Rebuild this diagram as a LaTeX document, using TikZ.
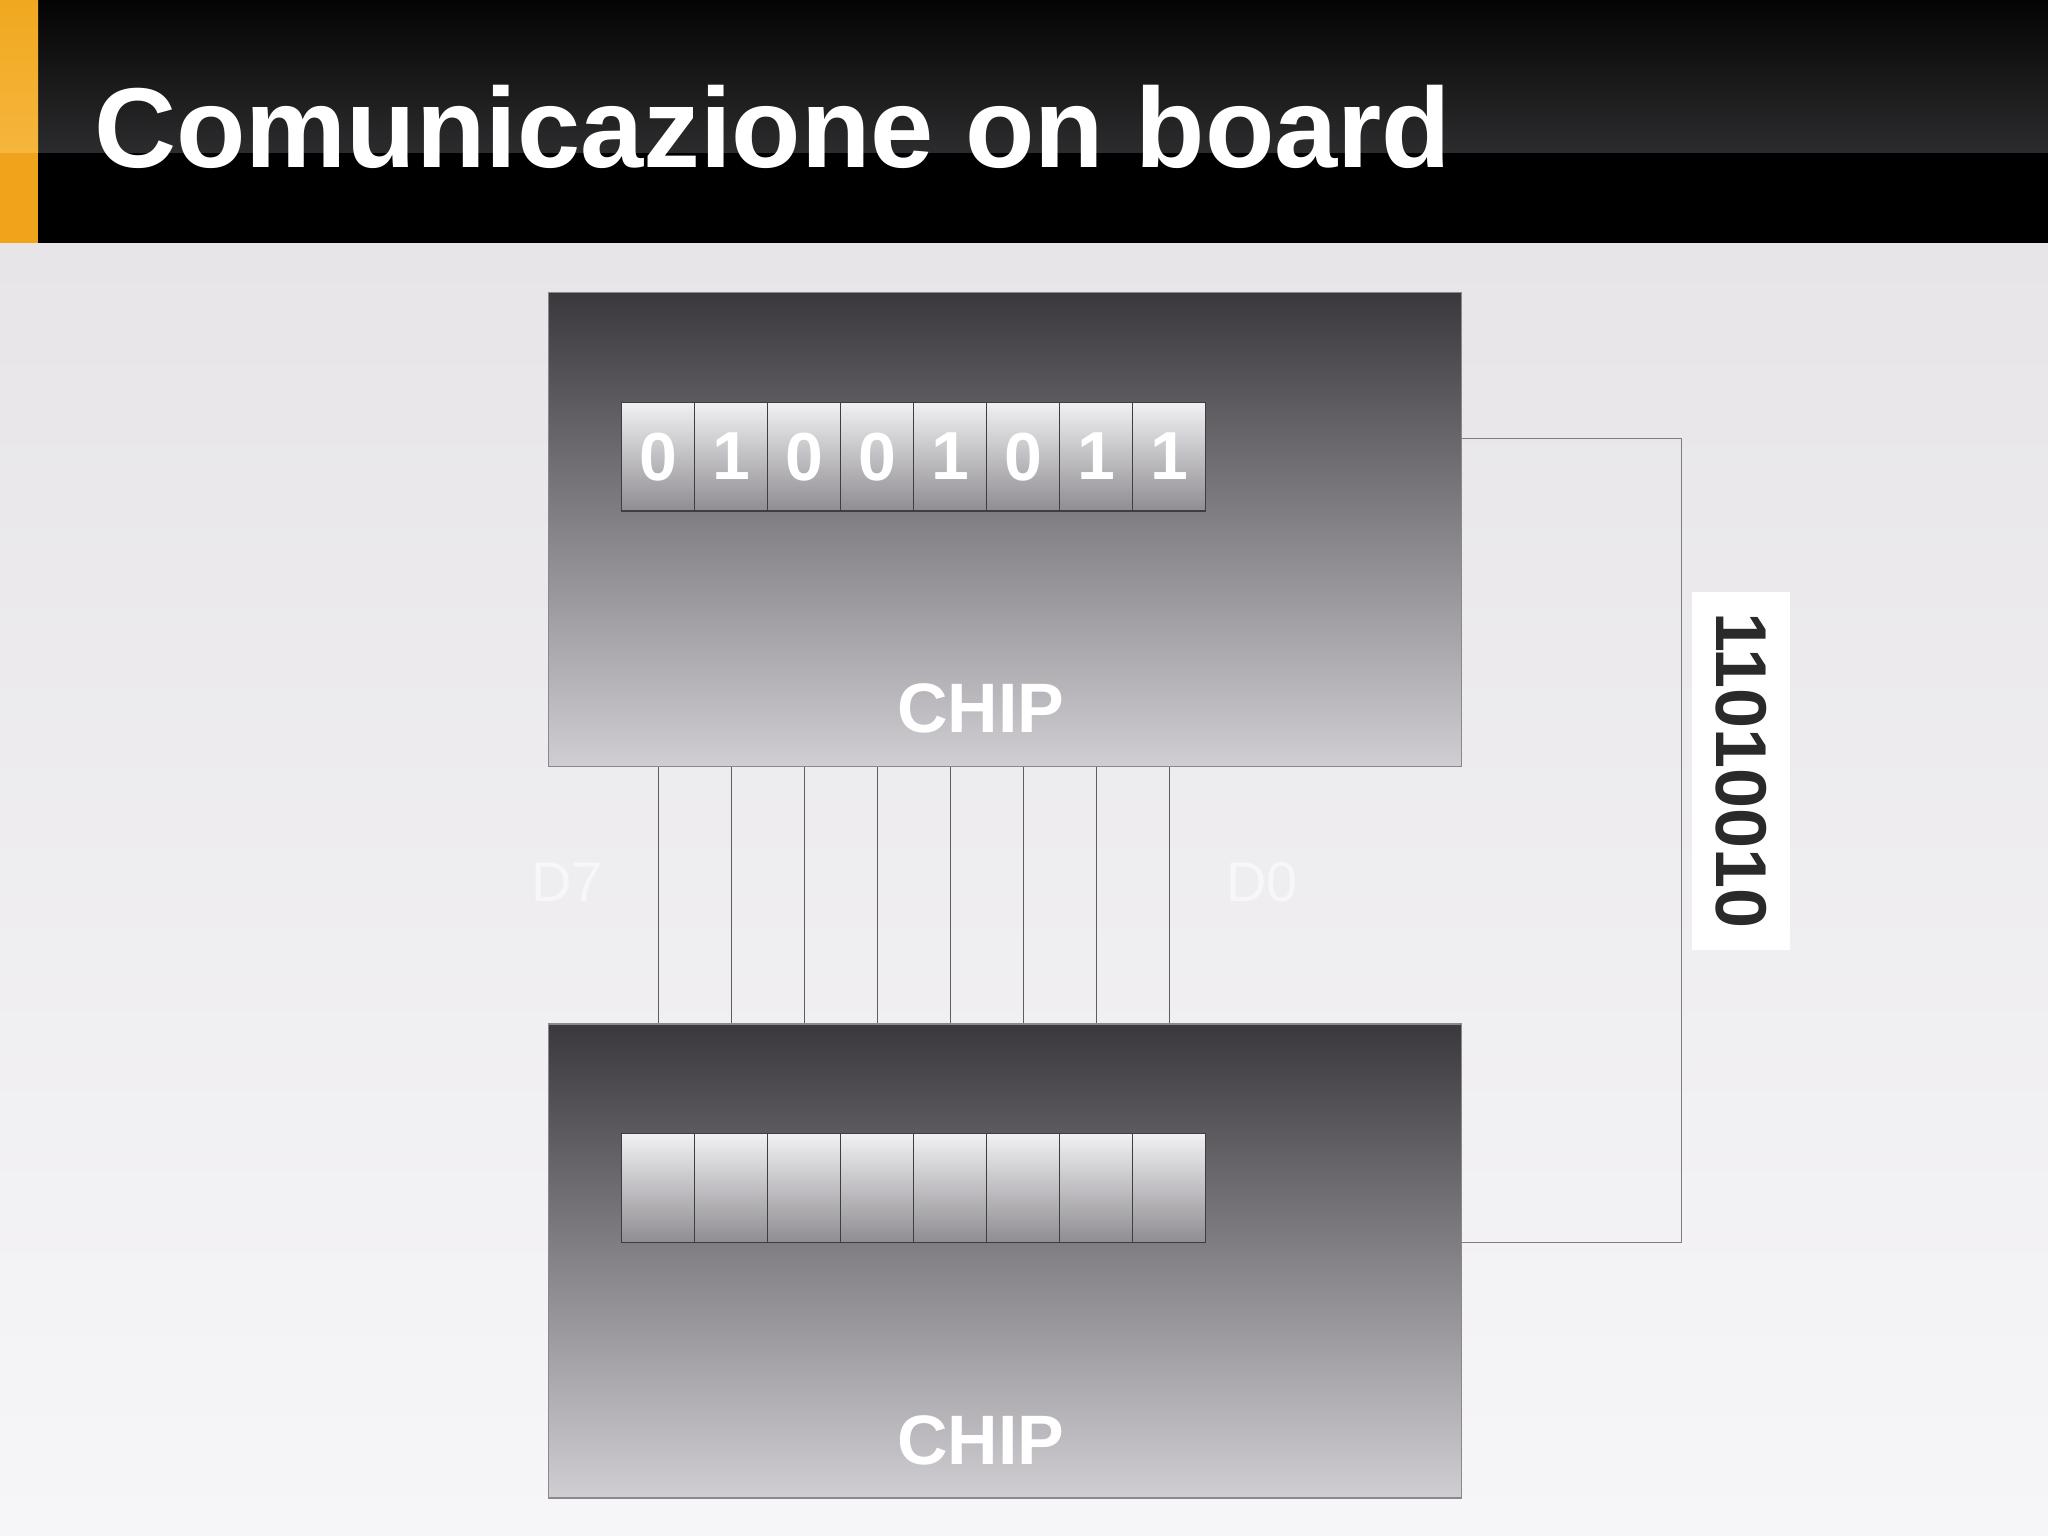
\documentclass[tikz,border=0pt]{standalone}
\usepackage{fontspec}
\setmainfont{Liberation Sans}
\definecolor{bgtop}{HTML}{E7E5E8}
\definecolor{bgbot}{HTML}{F6F5F7}
\definecolor{bartop}{HTML}{040404}
\definecolor{barmid}{HTML}{2C2C2E}
\definecolor{orgtop}{HTML}{F1A820}
\definecolor{orgmid}{HTML}{F5B63C}
\definecolor{orgbot}{HTML}{F0A41B}
\definecolor{chiptop}{HTML}{3A383C}
\definecolor{chipbot}{HTML}{D0CED2}
\definecolor{chipedge}{HTML}{8A888C}
\definecolor{celltop}{HTML}{F1F0F3}
\definecolor{cellbot}{HTML}{8F8D91}
\definecolor{celledge}{HTML}{3E3D40}
\definecolor{busgray}{HTML}{5E5D60}
\definecolor{labdark}{HTML}{2A2A2A}
\begin{document}
\begin{tikzpicture}[x=0.5pt,y=-0.5pt,
  chip/.style={draw=chipedge, line width=0.7pt, top color=chiptop, bottom color=chipbot,
    minimum width=456.45pt, minimum height=237.05pt, inner sep=0pt},
  cell/.style={draw=celledge, line width=0.6pt, top color=celltop, bottom color=cellbot,
    minimum width=36.5pt, minimum height=54.3pt, inner sep=0pt, text=white,
    font=\bfseries\fontsize{34}{34}\selectfont},
  chiplabel/.style={anchor=base, inner sep=0pt, text=white, font=\bfseries\fontsize{35}{35}\selectfont},
  dlabel/.style={inner sep=0pt, text=white!97!black, font=\fontsize{28}{28}\selectfont},
  bus/.style={draw=busgray, line width=0.7pt},
  wire/.style={draw=busgray!80, line width=0.7pt}]
\useasboundingbox (0,0) rectangle (2048,1535);
% background
\shade[top color=bgtop, bottom color=bgbot] (0,243) rectangle (2048,1535);
% title bar
\shade[top color=bartop, bottom color=barmid] (38,0) rectangle (2048,153);
\fill[black] (38,153) rectangle (2048,243);
\shade[top color=orgtop, bottom color=orgmid] (0,0) rectangle (38,153);
\fill[orgbot] (0,153) rectangle (38,243);
\node[anchor=base west, inner sep=0pt, text=white, font=\bfseries\fontsize{56.8}{56.8}\selectfont]
  (title) at (94,168) {Comunicazione on board};
% chips
\node[chip] (chipA) at (1005,529.65) {};
\node[chip] (chipB) at (1005,1261) {};
% registers
\foreach \k/\b in {1/0,2/1,3/0,4/0,5/1,6/0,7/1,8/1}{
  \node[cell] (ta-\k) at ({621.7+36.5+73*(\k-1)},456.6) {\b};
  \node[cell] (tb-\k) at ({621.7+36.5+73*(\k-1)},1187.9) {};
}
\node[chiplabel] (chipAl) at (981,732.7) {CHIP};
\node[chiplabel] (chipBl) at (981,1464) {CHIP};
% bus lines
\foreach \k in {1,...,8}{
  \draw[bus] (ta-\k.center |- chipA.south) -- (tb-\k.center |- chipB.north);
}
\node[dlabel] (d7) at (567,882.7) {D7};
\node[dlabel] (d0) at (1262,882.7) {D0};
% serial connection
\coordinate (rt) at (1681.7,438.5);
\coordinate (rb) at (1681.7,1242.3);
\draw[wire] (chipA.east |- rt) -- (rt) -- (rb) -- (chipB.east |- rb);
\node[fill=white, rotate=-90, minimum width=179.2pt, minimum height=49.2pt, inner sep=0pt,
  text=labdark, font=\bfseries\fontsize{36}{36}\selectfont] (serial) at (1741,770.8) {11010010};
\end{tikzpicture}
\end{document}
